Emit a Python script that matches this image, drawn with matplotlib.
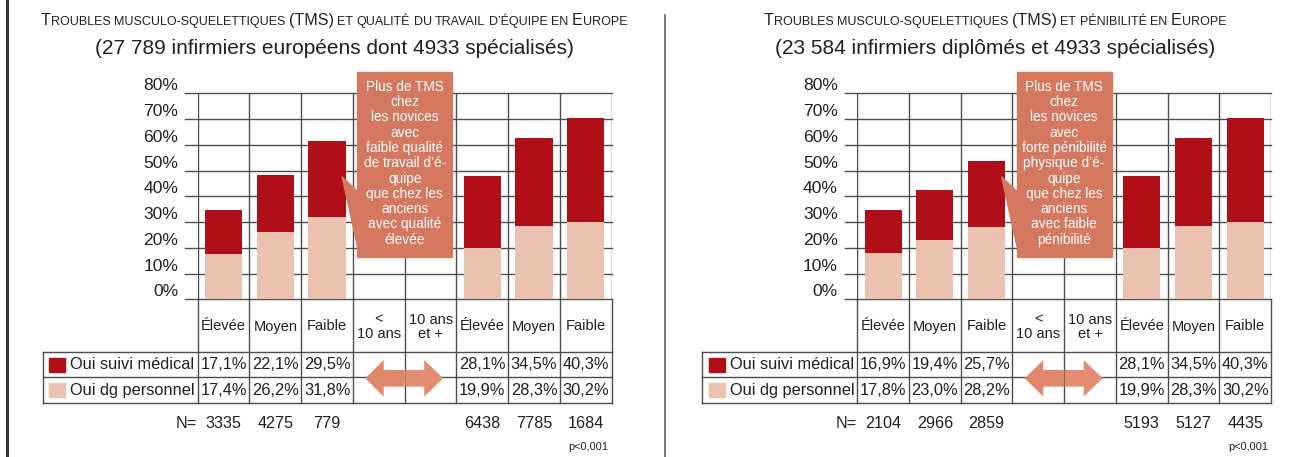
import numpy as np
import matplotlib
matplotlib.use('Agg')
import matplotlib.pyplot as plt
from matplotlib import font_manager
from matplotlib.patches import Rectangle, Polygon

names = {f.name for f in font_manager.fontManager.ttflist}
BASE = 'Liberation Sans' if 'Liberation Sans' in names else 'DejaVu Sans'
NARROW = 'Liberation Sans Narrow' if 'Liberation Sans Narrow' in names else BASE
plt.rcParams['font.family'] = [BASE, 'DejaVu Sans']

# data
col_labels = ['Élevée', 'Moyen', 'Faible', '<\n10 ans', '10 ans\net +', 'Élevée', 'Moyen', 'Faible']
bar_cols = [0, 1, 2, 5, 6, 7]
series_names = ['Oui suivi médical', 'Oui dg personnel']
y_ticks = [0, 10, 20, 30, 40, 50, 60, 70, 80]

left_title = 'Troubles musculo-squelettiques (TMS) et qualité du travail d’équipe en Europe'
left_sub = '(27 789 infirmiers européens dont 4933 spécialisés)'
left_suivi = [17.1, 22.1, 29.5, 28.1, 34.5, 40.3]
left_dg = [17.4, 26.2, 31.8, 19.9, 28.3, 30.2]
left_n = [3335, 4275, 779, 6438, 7785, 1684]
left_callout = ['Plus de TMS', 'chez', 'les novices', 'avec', 'faible qualité', 'de travail d’é-',
                'quipe', 'que chez les', 'anciens', 'avec qualité', 'élevée']

right_title = 'Troubles musculo-squelettiques (TMS) et pénibilité en Europe'
right_sub = '(23 584 infirmiers diplômés et 4933 spécialisés)'
right_suivi = [16.9, 19.4, 25.7, 28.1, 34.5, 40.3]
right_dg = [17.8, 23.0, 28.2, 19.9, 28.3, 30.2]
right_n = [2104, 2966, 2859, 5193, 5127, 4435]
right_callout = ['Plus de TMS', 'chez', 'les novices', 'avec', 'forte pénibilité', 'physique d’é-',
                 'quipe', 'que chez les', 'anciens', 'avec faible', 'pénibilité']

p_value = 'p<0,001'

DARK = '#b00f18'
LIGHT = '#ebc1b0'
BOX = '#d4785f'
ARROW_L = '#df866b'
ARROW_R = '#e38c71'
GRID = '#4d4d4d'
TXT = '#231f20'

W, H = 1312, 457
fig = plt.figure(figsize=(W / 100, H / 100), dpi=100)
ov = fig.add_axes([0, 0, 1, 1], zorder=3)
ov.set_xlim(0, W)
ov.set_ylim(H, 0)
ov.axis('off')
renderer = fig.canvas.get_renderer()


def text_w(s, size, family):
    t = ov.text(0, 0, s, fontsize=size, family=family)
    w = t.get_window_extent(renderer).width
    t.remove()
    return w


def smallcaps_tokens(text, size, ratio):
    tokens = []
    for wi, word in enumerate(text.split(' ')):
        if wi:
            tokens.append((' ', size * ratio))
        run, low = '', None
        for ch in word:
            l = ch.islower() if ch.isalpha() else (low if low is not None else False)
            if low is None or l == low:
                run += ch
            else:
                tokens.append((run.upper() if low else run, size * ratio if low else size))
                run = ch
            low = l
        tokens.append((run.upper() if low else run, size * ratio if low else size))
    return tokens


def smallcaps_width(tokens):
    tot = 0
    for s, sz in tokens:
        if s == ' ':
            tot += text_w('x x', sz, NARROW) - text_w('xx', sz, NARROW)
        else:
            tot += text_w(s, sz, NARROW)
    return tot


def smallcaps(cx, y, text, size, ratio=0.78):
    tokens = smallcaps_tokens(text, size, ratio)
    x = cx - smallcaps_width(tokens) / 2
    for s, sz in tokens:
        if s == ' ':
            x += text_w('x x', sz, NARROW) - text_w('xx', sz, NARROW)
            continue
        ov.text(x, y, s, fontsize=sz, family=NARROW, ha='left', va='baseline', color=TXT)
        x += text_w(s, sz, NARROW)


# font sizes fitted to the left panel widths
title_size = 14 * 588 / smallcaps_width(smallcaps_tokens(left_title, 14, 0.78))
sub_size = 12 * 480 / text_w(left_sub, 12, NARROW)


def panel(x0, cw, title, sub, suivi, dg, n, callout, title_cx):
    y0, y80 = 299.3, 93.3
    ax = fig.add_axes([x0 / W, 1 - y0 / H, 8 * cw / W, (y0 - y80) / H])
    ax.set_xlim(-0.5, 7.5)
    ax.set_ylim(0, 80)
    for s in ax.spines.values():
        s.set_visible(False)
    ax.set_xticks([])
    ax.set_yticks(y_ticks)
    ax.set_yticklabels([f'{v}%' for v in y_ticks], fontsize=12.6, color=TXT)
    ax.tick_params(axis='y', length=0, pad=14)
    for lbl in ax.get_yticklabels():
        lbl.set_va('bottom')
    ext = 12.5 / (8 * cw)
    for v in y_ticks:
        ax.axhline(v, xmin=-ext, xmax=1, color=GRID, lw=1.0, clip_on=False, zorder=1)
    for b in np.arange(-0.5, 8):
        ax.axvline(b, color=GRID, lw=1.0, zorder=1)
    ax.bar(bar_cols, dg, width=0.72, color=LIGHT, zorder=2)
    ax.bar(bar_cols, suivi, bottom=dg, width=0.72, color=DARK, zorder=2)

    # callout
    ax.add_patch(Rectangle((3.5 - 0.92, 16.5), 1.84, 71.6, color=BOX, zorder=5, clip_on=False))
    ax.add_patch(Polygon([(2.29, 47.6), (2.59, 41.8), (2.59, 20.4)], closed=True,
                         color=BOX, zorder=5, clip_on=False))
    for i, line in enumerate(callout):
        ax.text(3.5, 82.6 - i * 5.95, line, ha='center', va='center', color='white',
                fontsize=9.8, zorder=6, clip_on=False)

    # titles
    smallcaps(title_cx, 25, title, title_size)
    ov.text(title_cx, 48, sub, fontsize=sub_size, family=NARROW, ha='center', va='center', color=TXT)

    # table
    xe = x0 + 8 * cw
    lx = x0 - 155
    r1, r2, r3 = 351.7, 377.3, 403.3
    for yy in (r1, r2, r3):
        ov.plot([lx, xe], [yy, yy], color=GRID, lw=1.0, zorder=1)
    for k in range(9):
        xx = x0 + k * cw
        ov.plot([xx, xx], [y0, r3], color=GRID, lw=1.0, zorder=1)
    ov.plot([lx, lx], [r1, r3], color=GRID, lw=1.0, zorder=1)

    for k, lab in enumerate(col_labels):
        ov.text(x0 + (k + 0.5) * cw, (y0 + r1) / 2 + 1, lab, ha='center', va='center',
                fontsize=10.5, color=TXT, linespacing=1.0)
    ym1, ym2 = (r1 + r2) / 2, (r2 + r3) / 2
    for j, c in enumerate(bar_cols):
        xc = x0 + (c + 0.5) * cw
        ov.text(xc, ym1, f'{suivi[j]:.1f}%'.replace('.', ','), ha='center', va='center',
                fontsize=11.8, color=TXT)
        ov.text(xc, ym2, f'{dg[j]:.1f}%'.replace('.', ','), ha='center', va='center',
                fontsize=11.8, color=TXT)
        ov.text(xc, 423.5, str(n[j]), ha='center', va='center', fontsize=11.6, color=TXT)
    ov.text(x0 - 1, 423.5, 'N=', ha='right', va='center', fontsize=11.6, color=TXT)
    ov.text(xe - 3, 447, p_value, ha='right', va='center', fontsize=7.9, color=TXT)

    # legend squares
    for yy, colr, name in ((ym1, DARK, series_names[0]), (ym2, LIGHT, series_names[1])):
        ov.add_patch(Rectangle((lx + 6.3, yy - 7), 16, 14, color=colr, zorder=2))
        ov.text(lx + 27.3, yy, name, ha='left', va='center', fontsize=11.8, color=TXT)

    # double arrow
    c4 = x0 + 4 * cw
    yc = 378.3
    left_arrow = [(c4 - 39.4, yc), (c4 - 21, yc - 18.3), (c4 - 21, yc - 8.3), (c4, yc - 8.3),
                  (c4, yc + 8.3), (c4 - 21, yc + 8.3), (c4 - 21, yc + 18.3)]
    right_arrow = [(c4 + 38.5, yc), (c4 + 19.5, yc - 18.3), (c4 + 19.5, yc - 8.3), (c4 + 0.6, yc - 8.3),
                   (c4 + 0.6, yc + 8.3), (c4 + 19.5, yc + 8.3), (c4 + 19.5, yc + 18.3)]
    ov.add_patch(Polygon(left_arrow, closed=True, color=ARROW_L, zorder=4, lw=0))
    ov.add_patch(Polygon(right_arrow, closed=True, color=ARROW_R, zorder=4, lw=0))


panel(197.7, 51.75, left_title, left_sub, left_suivi, left_dg, left_n, left_callout, 334)
panel(857.3, 51.72, right_title, right_sub, right_suivi, right_dg, right_n, right_callout, 995)

# frame lines
ov.plot([6.7, 6.7], [0, H], color='#333333', lw=2.2)
ov.plot([665, 665], [15, H], color='#555555', lw=1.1)

fig.savefig('out.png', dpi=100)
